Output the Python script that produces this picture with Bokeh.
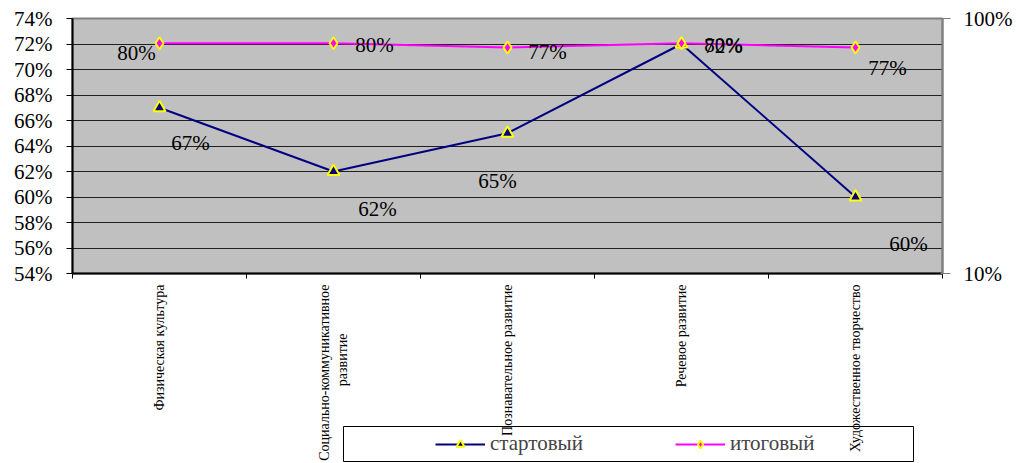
import numpy as np
from bokeh.plotting import figure
from bokeh.layouts import column
from bokeh.models import (Range1d, LogAxis, LogScale, FixedTicker,
                          ColumnDataSource, Legend)
from bokeh.core.properties import value
from bokeh.embed import file_html
from bokeh.resources import INLINE

categories = ["Физическая культура", "Социально-коммуникативное\nразвитие" + " " * 14,
              "Познавательное развитие", "Речевое развитие", "Художественное творчество"]
start_vals = [67, 62, 65, 72, 60]
final_vals = [80, 80, 77, 80, 77]
left_ticks = [54, 56, 58, 60, 62, 64, 66, 68, 70, 72, 74]
right_ticks = [10, 100]
series_names = ["стартовый", "итоговый"]

# label offsets in pixels (style/position only)
start_dx = [31, 44, -10, 42, 53]
start_dy = [35, 37, 48, 2, 47]
final_dx = [-23, 41, 40, 42, 32]
final_dy = [10, 2, 5, 2, 21]

FONT = "Times"
NAVY = "#000080"
MAGENTA = "#ff00ff"
x = np.arange(len(categories)) + 0.5

p = figure(width=1016, height=463, output_backend="svg", toolbar_location=None,
           x_range=Range1d(0, len(categories)), y_range=Range1d(54, 74),
           min_border_left=72, min_border_right=74, min_border_top=18, min_border_bottom=190,
           background_fill_color="#c0c0c0", border_fill_color="white")
p.frame_align = False
p.outline_line_color = "#808080"
p.outline_line_width = 2

p.extra_y_ranges = {"right": Range1d(10, 100)}
p.extra_y_scales = {"right": LogScale()}

p.xaxis.ticker = FixedTicker(ticks=list(x), minor_ticks=list(range(len(categories) + 1)))
p.xaxis.major_label_overrides = {float(xx): c for xx, c in zip(x, categories)}
p.xaxis.major_label_orientation = np.pi / 2
p.xaxis.major_tick_out = 0
p.xaxis.major_tick_in = 0
p.xaxis.minor_tick_out = 5
p.xaxis.minor_tick_in = 0
p.xaxis.minor_tick_line_color = "black"
p.xaxis.axis_line_color = "black"
p.xaxis.axis_line_width = 2
p.xaxis.major_label_text_font = FONT
p.xaxis.major_label_text_font_size = "14px"
p.xaxis.major_label_text_color = "black"
p.xaxis.major_label_standoff = 6

p.yaxis.ticker = FixedTicker(ticks=left_ticks)
p.yaxis.major_label_overrides = {t: f"{t}%" for t in left_ticks}
p.yaxis.major_tick_out = 6
p.yaxis.major_tick_in = 0
p.yaxis.minor_tick_line_color = None
p.yaxis.axis_line_color = "black"
p.yaxis.axis_line_width = 2
p.yaxis.major_label_text_font = FONT
p.yaxis.major_label_text_font_size = "21px"
p.yaxis.major_label_text_color = "black"
p.yaxis.major_label_standoff = 14

raxis = LogAxis(y_range_name="right", ticker=FixedTicker(ticks=right_ticks))
raxis.major_label_overrides = {t: f"{t}%" for t in right_ticks}
raxis.major_tick_out = 8
raxis.major_tick_in = 2
raxis.minor_tick_line_color = None
raxis.axis_line_color = "#808080"
raxis.axis_line_width = 2
raxis.major_tick_line_color = "#808080"
raxis.major_label_text_font = FONT
raxis.major_label_text_font_size = "21px"
raxis.major_label_text_color = "black"
raxis.major_label_standoff = 13
p.add_layout(raxis, "right")

p.xgrid.visible = False
p.ygrid.ticker = FixedTicker(ticks=left_ticks)
p.ygrid.grid_line_color = "#202020"
p.ygrid.grid_line_width = 1

src_s = ColumnDataSource(dict(x=x, y=start_vals, lab=[f"{v}%" for v in start_vals],
                              dx=start_dx, dy=start_dy))
src_f = ColumnDataSource(dict(x=x, y=final_vals, lab=[f"{v}%" for v in final_vals],
                              dx=final_dx, dy=final_dy))

p.line("x", "y", source=src_s, line_color=NAVY, line_width=2)
p.scatter("x", "y", source=src_s, marker="triangle", size=12,
          fill_color=NAVY, line_color="yellow", line_width=2)
p.line("x", "y", source=src_f, y_range_name="right", line_color=MAGENTA, line_width=2)
p.scatter("x", "y", source=src_f, y_range_name="right", marker="diamond", size=12,
          fill_color=MAGENTA, line_color="yellow", line_width=2)

p.text("x", "y", text="lab", source=src_s, x_offset="dx", y_offset="dy",
       text_font=value(FONT), text_font_size="21px", text_color="black",
       text_align="center", text_baseline="middle")
p.text("x", "y", text="lab", source=src_f, y_range_name="right", x_offset="dx", y_offset="dy",
       text_font=value(FONT), text_font_size="21px", text_color="black",
       text_align="center", text_baseline="middle")

# legend strip (its frame outline is the legend box), overlapping the bottom of the chart
lf = figure(width=1016, height=37, output_backend="svg", toolbar_location=None,
            x_axis_type=None, y_axis_type=None,
            x_range=Range1d(-100, -99), y_range=Range1d(-100, -99),
            min_border_left=343, min_border_right=103, min_border_top=0, min_border_bottom=2,
            background_fill_alpha=0, border_fill_alpha=0)
lf.frame_align = False
lf.outline_line_color = "black"
lf.outline_line_width = 1
lf.margin = (-37, 0, 0, 0)
# same series, outside this strip's ranges: only their legend swatches show
ll1 = lf.line("x", "y", source=src_s, line_color=NAVY, line_width=2)
lm1 = lf.scatter("x", "y", source=src_s, marker="triangle", size=12, fill_color=NAVY,
                 line_color="yellow", line_width=2)
ll2 = lf.line("x", "y", source=src_f, line_color=MAGENTA, line_width=2)
lm2 = lf.scatter("x", "y", source=src_f, marker="diamond", size=11, fill_color=MAGENTA,
                 line_color="yellow", line_width=2)
legend = Legend(items=[(series_names[0], [ll1, lm1]), (series_names[1], [ll2, lm2])],
                orientation="horizontal", location=(88, 1),
                label_text_font=FONT, label_text_font_size="21px",
                glyph_width=50, label_standoff=5, spacing=92, padding=4, margin=0,
                border_line_alpha=0, background_fill_alpha=0)
lf.add_layout(legend, "center")

layout = column(p, lf, spacing=0)
open("out.html", "w").write(file_html(layout, INLINE))
